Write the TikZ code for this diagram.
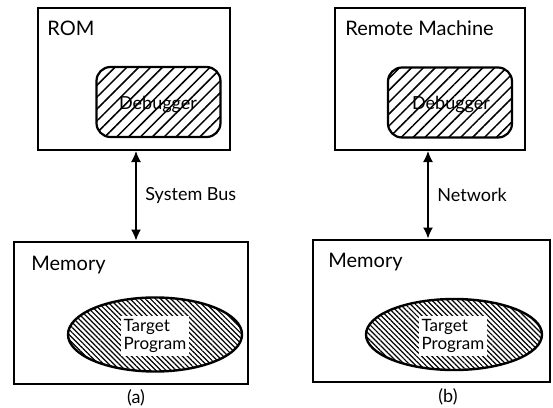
\documentclass[tikz,border=0pt]{standalone}
\usepackage{fontspec}
\setmainfont{Lato}
\usetikzlibrary{shapes.geometric}
\usetikzlibrary{patterns.meta}
\usetikzlibrary{arrows.meta}
\usetikzlibrary{positioning}

\begin{document}
\begin{tikzpicture}[x=0.5pt, y=-0.5pt, >={Latex[length=5.5pt,width=5pt]}]
      % Styles
      \tikzset{
        hostbox/.style={draw, line width=1pt, minimum width=#1, minimum height=71pt, inner sep=0pt},
        membox/.style={draw, line width=1pt, minimum height=71pt, inner sep=0pt, minimum width=#1},
        dbgbox/.style={draw, line width=1.1pt, rounded corners=7pt, inner sep=0pt,
          minimum width=62pt, minimum height=35pt,
          pattern={Lines[angle=45, distance=4.2pt, line width=0.75pt]}},
        progell/.style={draw, ellipse, line width=1.2pt, inner sep=0pt,
          minimum width=87pt, minimum height=37pt,
          pattern={Lines[angle=-45, distance=1.8pt, line width=0.6pt]}},
        boxlabel/.style={anchor=west, inner sep=0pt},
        conn/.style={<->, line width=0.7pt}
      }
      \useasboundingbox (0,0) rectangle (553,408);

      % (a) ROM based debugger
      \node[hostbox=96pt] (rom) at (134,79) {};
      \node[boxlabel] (romlbl) at (47,28) {ROM};
      \node[dbgbox] (dbgA) at (158.5,102) {};
      \node[font=\small] (dbgAtxt) at (158,105) {Debugger};

      \node[membox=117pt] (memA) at (131,312.5) {};
      \node[boxlabel] (memAlbl) at (31,265) {Memory};
      \node[progell] (progA) at (155,334.5) {};
      \node[fill=white, font=\fontsize{8.5}{9}\selectfont, align=left, inner sep=1.5pt] (progAtxt) at (155,336) {Target\\Program};

      \coordinate (busA) at (136,0);
      \draw[conn] (rom.south -| busA) -- (memA.north -| busA);
      \node[boxlabel, font=\small] (buslbl) at (145,196) {System Bus};
      \node (capA) at (136,398) {\small (a)};

      % (b) remote debugger
      \node[hostbox=95pt] (remote) at (430,79) {};
      \node[boxlabel] (remotelbl) at (345,28) {Remote Machine};
      \node[dbgbox] (dbgB) at (450,102.5) {};
      \node[font=\small] (dbgBtxt) at (451,105) {Debugger};

      \node[membox=118.5pt] (memB) at (431.5,310.5) {};
      \node[boxlabel] (memBlbl) at (328,262) {Memory};
      \node[progell, minimum width=88pt, minimum height=35.5pt] (progB) at (454,334.5) {};
      \node[fill=white, font=\fontsize{8.5}{9}\selectfont, align=left, inner sep=1.5pt] (progBtxt) at (453,336) {Target\\Program};

      \coordinate (netB) at (428,0);
      \draw[conn] (remote.south -| netB) -- (memB.north -| netB);
      \node[boxlabel, font=\small] (netlbl) at (437,195) {Network};
      \node (capB) at (448,397) {\small (b)};
    \end{tikzpicture}
\end{document}
